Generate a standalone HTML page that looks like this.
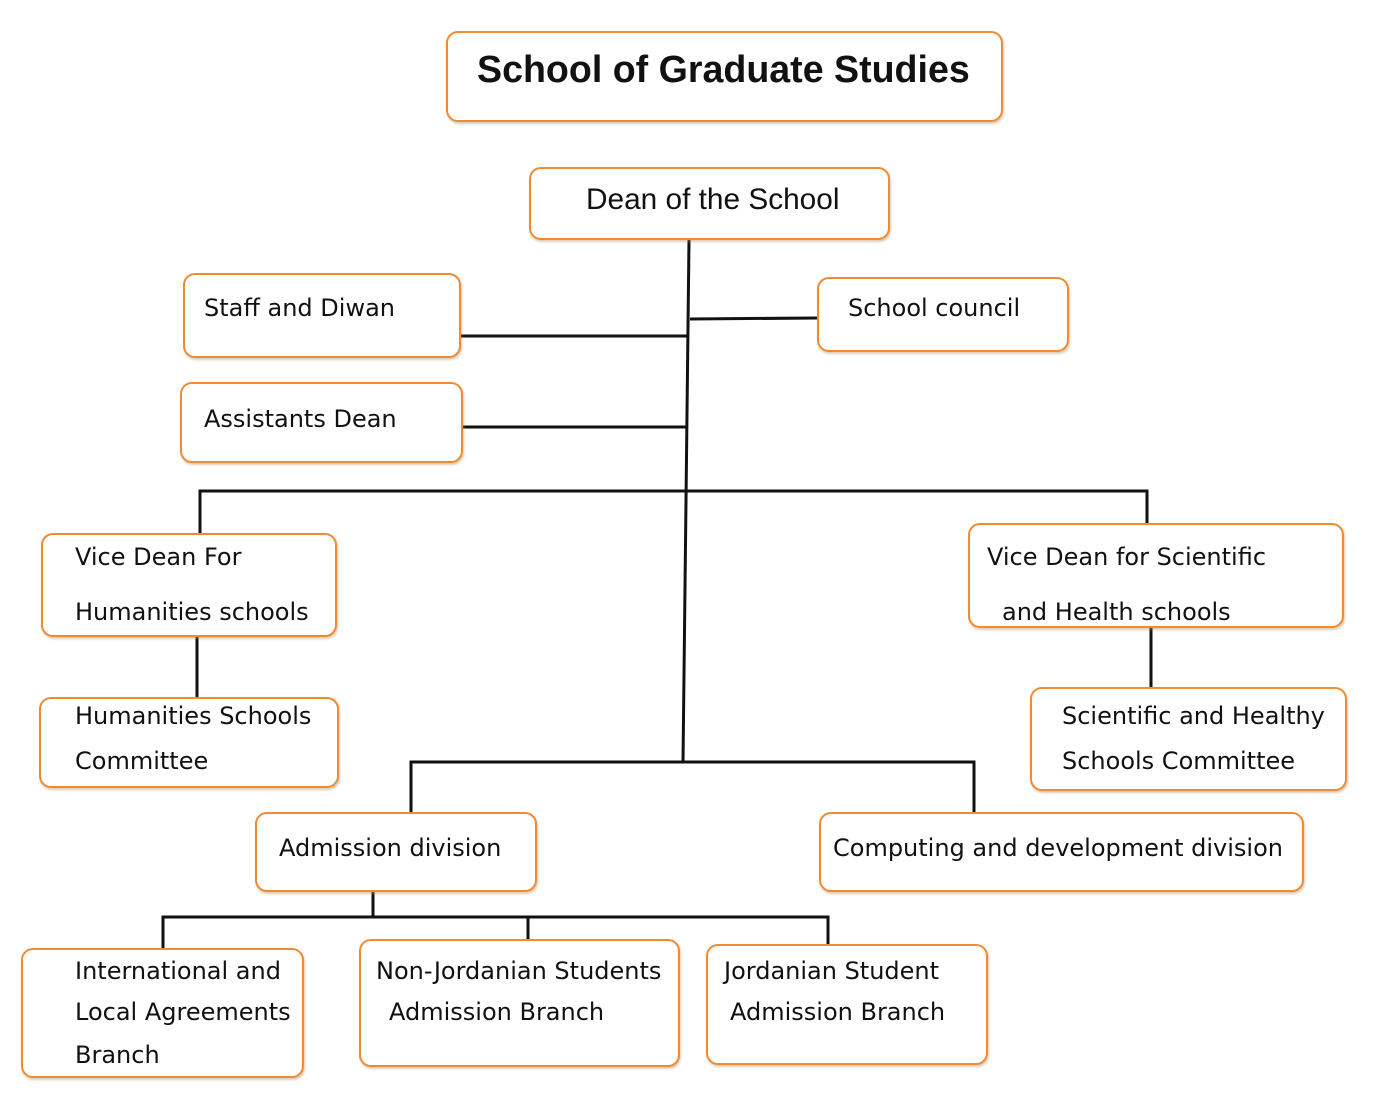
<!DOCTYPE html>
<html><head><meta charset="utf-8"><style>
body{margin:0;width:1400px;height:1103px;background:#fff;position:relative;overflow:hidden}
.b{position:absolute;box-sizing:border-box;border:2.5px solid #f28a30;border-radius:12px;background:#fff;box-shadow:1px 2px 2px rgba(180,140,100,.45)}
.t{position:absolute;font-family:"DejaVu Sans",sans-serif;font-size:24px;line-height:24px;color:#111;white-space:nowrap}
svg{position:absolute;left:0;top:0}
</style></head><body>
<svg width="1400" height="1103" stroke="#111" stroke-width="3" fill="none">
<line x1="689" y1="240" x2="683" y2="762"/>
<line x1="461" y1="336" x2="688" y2="336"/>
<line x1="690" y1="319" x2="818" y2="318"/>
<line x1="463" y1="427" x2="687" y2="427"/>
<polyline points="200,533 200,491 1147,491 1147,523"/>
<line x1="197" y1="637" x2="197" y2="697"/>
<line x1="1151" y1="628" x2="1151" y2="687"/>
<polyline points="411,815 411,762 974,762 974,812"/>
<line x1="373" y1="887" x2="373" y2="917"/>
<polyline points="163,948 163,917 828,917 828,944"/>
<line x1="528" y1="917" x2="528" y2="939"/>
</svg>
<div class="b" style="left:446px;top:31px;width:557px;height:91px"></div>
<div class="t" style="left:477px;top:49px;font-family:'Liberation Sans',sans-serif;font-weight:bold;font-size:37.6px;line-height:40px">School of Graduate Studies</div>
<div class="b" style="left:529px;top:167px;width:361px;height:73px"></div>
<div class="t" style="left:586px;top:184px;font-family:'Liberation Sans',sans-serif;font-size:29.8px;line-height:31px">Dean of the School</div>
<div class="b" style="left:183px;top:273px;width:278px;height:85px"></div>
<div class="t" style="left:204px;top:296px">Staff and Diwan</div>
<div class="b" style="left:817px;top:277px;width:252px;height:75px"></div>
<div class="t" style="left:848px;top:296px">School council</div>
<div class="b" style="left:180px;top:382px;width:283px;height:81px"></div>
<div class="t" style="left:204px;top:407px">Assistants Dean</div>
<div class="b" style="left:41px;top:533px;width:296px;height:104px"></div>
<div class="t" style="left:75px;top:545px">Vice Dean For</div>
<div class="t" style="left:75px;top:600px">Humanities schools</div>
<div class="b" style="left:968px;top:523px;width:376px;height:105px"></div>
<div class="t" style="left:987px;top:545px">Vice Dean for Scientific</div>
<div class="t" style="left:1002px;top:600px">and Health schools</div>
<div class="b" style="left:39px;top:697px;width:300px;height:91px"></div>
<div class="t" style="left:75px;top:704px">Humanities Schools</div>
<div class="t" style="left:75px;top:749px">Committee</div>
<div class="b" style="left:1030px;top:687px;width:317px;height:104px"></div>
<div class="t" style="left:1062px;top:704px">Scientific and Healthy</div>
<div class="t" style="left:1062px;top:749px">Schools Committee</div>
<div class="b" style="left:255px;top:812px;width:282px;height:80px"></div>
<div class="t" style="left:279px;top:836px">Admission division</div>
<div class="b" style="left:819px;top:812px;width:485px;height:80px"></div>
<div class="t" style="left:833px;top:836px">Computing and development division</div>
<div class="b" style="left:21px;top:948px;width:283px;height:130px"></div>
<div class="t" style="left:75px;top:959px">International and</div>
<div class="t" style="left:75px;top:1000px">Local Agreements</div>
<div class="t" style="left:75px;top:1043px">Branch</div>
<div class="b" style="left:359px;top:939px;width:321px;height:128px"></div>
<div class="t" style="left:376px;top:959px">Non-Jordanian Students</div>
<div class="t" style="left:389px;top:1000px">Admission Branch</div>
<div class="b" style="left:706px;top:944px;width:282px;height:121px"></div>
<div class="t" style="left:724px;top:959px">Jordanian Student</div>
<div class="t" style="left:730px;top:1000px">Admission Branch</div>
</body></html>
